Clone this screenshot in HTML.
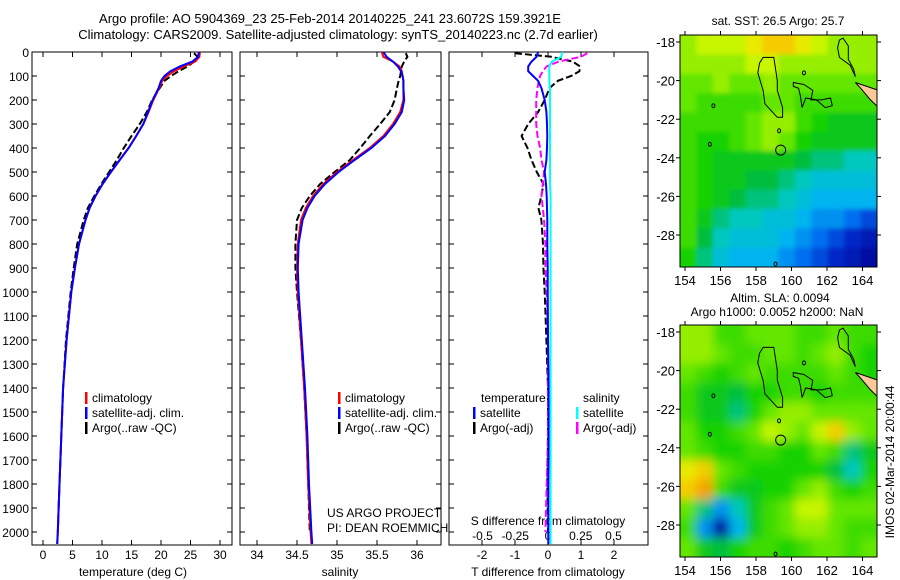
<!DOCTYPE html>
<html><head><meta charset="utf-8"><style>
html,body{margin:0;padding:0;background:#fff;}
svg{display:block;font-family:"Liberation Sans",sans-serif;}
</style></head><body>
<svg id="fig" width="900" height="580" viewBox="0 0 900 580" xmlns="http://www.w3.org/2000/svg">
<defs>
<clipPath id="cp1"><rect x="32" y="52" width="200" height="493"/></clipPath>
<clipPath id="cp2"><rect x="240" y="52" width="201" height="493"/></clipPath>
<clipPath id="cp3"><rect x="449" y="52" width="199" height="493"/></clipPath>
<clipPath id="cm1"><rect x="680" y="35" width="197" height="232"/></clipPath>
<clipPath id="cm2"><rect x="680" y="325" width="197" height="232"/></clipPath>
<filter id="blur" x="-10%" y="-10%" width="120%" height="120%"><feGaussianBlur stdDeviation="5"/></filter>
<filter id="blur1" x="-10%" y="-10%" width="120%" height="120%"><feGaussianBlur stdDeviation="2.5"/></filter>
</defs>
<text x="330" y="23" font-size="13" text-anchor="middle">Argo profile: AO 5904369_23 25-Feb-2014 20140225_241 23.6072S 159.3921E</text>
<text x="338" y="39" font-size="13" text-anchor="middle">Climatology: CARS2009. Satellite-adjusted climatology: synTS_20140223.nc (2.7d earlier)</text>
<text x="778" y="25" font-size="12" text-anchor="middle">sat. SST: 26.5 Argo: 25.7</text>
<text x="780" y="302" font-size="12" text-anchor="middle">Altim. SLA: 0.0094</text>
<text x="777" y="316" font-size="12" text-anchor="middle">Argo h1000: 0.0052 h2000: NaN</text>
<text transform="translate(894,462) rotate(-90)" font-size="12" text-anchor="middle">IMOS 02-Mar-2014 20:00:44</text>
<g id="g1"></g>
<g id="g2"></g>
<g id="g3"></g>
<g id="m1"></g>
<g id="m2"></g>
<text x="327" y="517" font-size="12">US ARGO PROJECT</text>
<text x="327" y="532" font-size="12">PI: DEAN ROEMMICH</text>
</svg>
<script>
const depthC=[0,20,40,60,80,100,120,150,200,250,300,350,400,450,500,550,600,650,700,800,900,1000,1200,1400,1600,1800,2000,2050];
const depthA=[5,20,40,60,80,100,120,150,200,250,300,350,400,450,500,550,600,650,700,800,900,1000,1200,1400,1600,1800,2000];
const tempClim=[26.6,26.5,25.8,23.8,22.2,21.0,20.2,19.7,18.7,17.9,17.0,15.8,14.5,13.0,11.5,10.1,8.9,7.9,7.2,6.1,5.4,4.8,4.0,3.4,3.1,2.8,2.5,2.4];
const tempSat=[26.4,26.3,25.3,23.2,21.6,20.6,20.0,19.6,18.6,17.8,17.0,15.8,14.5,13.0,11.5,10.1,8.9,7.9,7.2,6.1,5.4,4.8,4.0,3.4,3.1,2.8,2.5,2.4];
const tempArgo=[25.6,26.2,25.6,24.5,23.0,21.7,20.6,19.8,18.5,17.6,16.4,15.0,13.7,12.5,11.2,9.9,8.7,7.6,6.9,5.8,5.2,4.7,3.9,3.4,3.1,2.8,2.5];
const salClim=[35.56,35.58,35.70,35.78,35.81,35.82,35.83,35.83,35.83,35.79,35.70,35.58,35.41,35.20,35.00,34.83,34.70,34.61,34.55,34.51,34.50,34.51,34.55,34.59,34.62,34.64,34.67,34.68];
const salSat=[35.58,35.62,35.70,35.76,35.80,35.82,35.83,35.83,35.84,35.81,35.72,35.60,35.43,35.22,35.02,34.85,34.72,34.63,34.57,34.52,34.51,34.52,34.56,34.60,34.63,34.65,34.68,34.69];
const salArgo=[35.86,35.88,35.84,35.81,35.80,35.79,35.77,35.75,35.72,35.66,35.54,35.41,35.29,35.16,34.97,34.79,34.66,34.56,34.50,34.48,34.48,34.50,34.55,34.59,34.62,34.64,34.66];
const satTdiff=[-0.3,-0.35,-0.5,-0.6,-0.6,-0.45,-0.3,-0.2,-0.1,-0.05,-0.03,-0.02,-0.03,-0.05,-0.1,-0.06,-0.04,-0.03,-0.02,-0.02,-0.01,-0.01,0,0.02,0.02,0.01,0.01,0.01];
const satSdiff=[0.11,0.1,0.03,0.01,0.01,0.01,0.01,0.015,0.015,0.015,0.015,0.015,0.015,0.015,0.015,0.015,0.02,0.02,0.02,0.02,0.02,0.02,0.02,0.02,0.02,0.02,0.02,0.02];
const argoTdiff=[-1.0,0.1,0.75,0.97,0.95,0.7,0.3,0.05,-0.1,-0.3,-0.6,-0.8,-0.62,-0.5,-0.34,-0.14,-0.2,-0.29,-0.2,-0.15,-0.14,-0.1,-0.05,0,0,-0.02,0];
const argoSdiff=[0.3,0.25,0.08,-0.01,-0.04,-0.06,-0.07,-0.08,-0.09,-0.09,-0.09,-0.08,-0.06,-0.05,-0.03,-0.04,-0.05,-0.04,-0.03,-0.02,-0.02,-0.01,0,0,0,-0.01,-0.02];
const depthTicks=[0,100,200,300,400,500,600,700,800,900,1000,1100,1200,1300,1400,1500,1600,1700,1800,1900,2000];
const tempTicks=[0,5,10,15,20,25,30];
const salTicks=[34,34.5,35,35.5,36];
const tdTicks=[-2,-1,0,1,2];
const sdTicks=[-0.5,-0.25,0,0.25,0.5];
const sdTickLabels=["-0.5","-0.25","0","0.25","0.5"];
const lonTicks=[154,156,158,160,162,164];
const latTicks=[-18,-20,-22,-24,-26,-28];
const sstGrid=[
[8,8.5,8.5,8.5,9,9.5,9.5,9,8.5,8,8,8],
[8,8,8,8,8.5,8.5,8,8,8,8,8,8],
[7.5,7.5,8,7.5,7.5,8,7.5,7.5,7.5,7.5,7.5,7.5],
[7.5,7,7,7,7,7.5,7.5,7,7,7,7,7],
[7,7,7,7,7.5,8,8,7,6.5,6,6,6],
[7,6.5,6.5,7,7.5,8,7.5,6.5,6,6,6,6],
[7,6.5,6,6,6,6,6,5.5,5,5,4.5,4.5],
[7,6.5,6,6,5.5,5.5,5,4.5,4,4,4,4],
[7,6.5,6,5.5,5,5,4.5,4,3.5,3.5,3.5,3.5],
[7,6,5,4.5,4.5,4,4,3.5,3,3,2.5,2],
[7,5.5,4.5,4,4,4,3.5,3,2.5,2,1.5,1],
[6.5,5,4,3.5,3.5,3.5,3,2.5,2,1.5,1,0.5]];
const slaGrid=[
[8,8,7,7,7.5,7.5,7.5,7,7,7.5,7,7],
[8,8,7.5,7,7,7.5,7.5,7,7.5,8,7,6.5],
[7.5,7,6.5,7,7.5,7,7,7,7,7.5,7,6.5],
[7,6,6,5.5,6.5,6.5,7,7,6.5,7,7,7],
[7,6,6,5,6.5,7.5,8,8,7.5,7.5,7.5,7.5],
[7.5,6.5,6.5,7,7.5,8.5,8,7.5,8.5,9.5,8,7.5],
[7.5,7,6.5,6.5,7,7,6.5,6.5,7.5,7,5,6],
[9,9.5,7.5,7,6.5,6.5,6.5,6.5,6.5,5.5,4.5,6.5],
[9.5,10,7,6,6,6.5,6.5,7.5,8,7,6.5,7],
[7.5,5,3,4.5,6,7,7.5,8.5,8.5,7.5,7.5,7.5],
[7,3,0.5,3.5,6,7,7.5,8,8,7.5,7,7],
[7.5,6,5.5,6.5,7,7,6.5,7,7.5,7.5,7,7.5]];
const island1=[[158.4,-18.8],[159.0,-18.8],[159.2,-20.0],[159.2,-20.5],[159.5,-21.4],[159.5,-21.9],[159.2,-21.9],[158.5,-21.2],[158.4,-20.5],[158.1,-19.6],[158.2,-19.1]];
const island2=[[160.1,-20.1],[160.7,-20.2],[161.2,-20.5],[161.1,-21.0],[161.7,-21.0],[162.2,-20.9],[162.3,-21.3],[161.9,-21.4],[161.4,-21.0],[160.8,-20.9],[160.6,-21.4],[160.5,-20.8],[160.4,-20.4],[160.1,-20.3]];
const island3=[[162.9,-17.8],[163.2,-18.2],[163.2,-18.9],[163.5,-19.4],[163.6,-19.8],[163.3,-19.2],[162.7,-18.8],[162.6,-18.3],[162.7,-17.9]];
const land=[[163.6,-20.1],[164.9,-20.5],[164.9,-21.4],[164.45,-21.0],[163.9,-20.4]];
const islets=[[155.6,-21.3],[155.4,-23.3],[159.3,-22.6],[160.7,-19.6],[159.1,-29.5]];
const argoPos=[159.39,-23.6];

const NS="http://www.w3.org/2000/svg";
function mk(parent,tag,attrs){const e=document.createElementNS(NS,tag);for(const k in attrs)e.setAttribute(k,attrs[k]);parent.appendChild(e);return e;}
const top0=52,bot=545;
const yD=d=>top0+d*0.24;
const xT=t=>43+t*5.9, xS=s=>257+(s-34)*80, xdT=v=>548+v*33, xdS=v=>548+v*131;

function frame(g,x0,x1,xTickPos){
  const r=mk(g,'rect',{x:x0,y:top0,width:x1-x0,height:bot-top0,fill:'none',stroke:'#000','stroke-width':1});
  
  
  depthTicks.forEach(d=>{
    mk(g,'line',{x1:x0,x2:x0+5,y1:yD(d),y2:yD(d),stroke:'#000'});
    mk(g,'line',{x1:x1,x2:x1-5,y1:yD(d),y2:yD(d),stroke:'#000'});
  });
  xTickPos.forEach(x=>{
    mk(g,'line',{x1:x,x2:x,y1:bot,y2:bot-5,stroke:'#000'});
    mk(g,'line',{x1:x,x2:x,y1:top0,y2:top0+5,stroke:'#000'});
  });
}
function line(g,xs,ys,fx,color,dash,name,clip){
  const pts=xs.map((v,i)=>fx(v).toFixed(1)+','+yD(ys[i]).toFixed(1)).join(' ');
  const p=mk(g,'polyline',{points:pts,fill:'none',stroke:color,'stroke-width':2,'clip-path':'url(#'+clip+')'});
  if(dash)p.setAttribute('stroke-dasharray','7,3');
  
  
}
function txt(g,x,y,s,anchor,size,name){
  const t=mk(g,'text',{x:x,y:y,'font-size':size||12,'text-anchor':anchor||'start'});
  t.textContent=s;
  
  
  return t;
}
function legend(g,x,y,color,label){
  mk(g,'rect',{x:x,y:y-10,width:2.5,height:12,fill:color});
  txt(g,x+7,y,label,'start',12,'legend-entry');
}
const g1=document.getElementById('g1');
frame(g1,32,232,tempTicks.map(xT));
depthTicks.forEach(d=>txt(g1,29,yD(d)+5,String(d),'end',12,'depth-tick-label'));
tempTicks.forEach(t=>txt(g1,xT(t),559,String(t),'middle',12,'temp-tick-label'));
txt(g1,133,576,'temperature (deg C)','middle',12,'x-axis-title-temperature');
line(g1,tempArgo,depthA,xT,'#000',true,'argo-temperature-line','cp1');
line(g1,tempClim,depthC,xT,'#f00',false,'clim-temperature-line','cp1');
line(g1,tempSat,depthC,xT,'#00f',false,'sat-temperature-line','cp1');
legend(g1,85,402,'#f00','climatology');legend(g1,85,417,'#00f','satellite-adj. clim.');legend(g1,85,432,'#000','Argo(..raw -QC)');
const g2=document.getElementById('g2');
frame(g2,240,441,salTicks.map(xS));
salTicks.forEach(s=>txt(g2,xS(s),559,String(s),'middle',12,'sal-tick-label'));
txt(g2,340,576,'salinity','middle',12,'x-axis-title-salinity');
line(g2,salArgo,depthA,xS,'#000',true,'argo-salinity-line','cp2');
line(g2,salClim,depthC,xS,'#f00',false,'clim-salinity-line','cp2');
line(g2,salSat,depthC,xS,'#00f',false,'sat-salinity-line','cp2');
legend(g2,338,402,'#f00','climatology');legend(g2,338,417,'#00f','satellite-adj. clim.');legend(g2,338,432,'#000','Argo(..raw -QC)');
const g3=document.getElementById('g3');
frame(g3,449,648,tdTicks.map(xdT));
tdTicks.forEach(v=>txt(g3,xdT(v),559,String(v),'middle',12,'tdiff-tick-label'));
sdTicks.forEach((v,i)=>txt(g3,xdS(v),540,sdTickLabels[i],'middle',12,'sdiff-tick-label'));
txt(g3,548,576,'T difference from climatology','middle',12,'x-axis-title-tdiff');
txt(g3,548,525,'S difference from climatology','middle',12,'x-axis-title-sdiff');
line(g3,argoTdiff,depthA,xdT,'#000',true,'argo-tdiff-line','cp3');
line(g3,argoSdiff,depthA,xdS,'#f0f',true,'argo-sdiff-line','cp3');
line(g3,satTdiff,depthC,xdT,'#00f',false,'sat-tdiff-line','cp3');
line(g3,satSdiff,depthC,xdS,'#0ff',false,'sat-sdiff-line','cp3');
txt(g3,481,402,'temperature','start',12,'legend-title-temperature');
txt(g3,583,402,'salinity','start',12,'legend-title-salinity');
legend(g3,473,417,'#00f','satellite');legend(g3,473,432,'#000','Argo(-adj)');
legend(g3,576,417,'#0ff','satellite');legend(g3,576,432,'#f0f','Argo(-adj)');
const cols=[[0,[0,0,140]],[1.5,[0,40,200]],[2.5,[0,110,240]],[3.5,[0,180,240]],[4.5,[0,200,190]],[5.5,[0,190,60]],[6.5,[20,210,0]],[7.5,[100,230,0]],[8.5,[200,245,0]],[9.2,[245,230,0]],[10,[245,160,0]]];
function cmap(v){for(let i=1;i<cols.length;i++){if(v<=cols[i][0]){const a=cols[i-1],b=cols[i];const f=(v-a[0])/(b[0]-a[0]);return 'rgb('+a[1].map((c,k)=>Math.round(c+(b[1][k]-c)*f)).join(',')+')';}}return 'rgb(245,160,0)';}
function drawMap(id,grid,y0,clip,filt){
  const g=document.getElementById(id);
  const x0=680,w=197,h=232;
  const lon=v=>685+(v-154)*17.75;
  const lat=v=>(y0+7)+(-18-v)*19.3;
  const lonMin=153.72,lonMax=164.82,latMax=-17.64,latMin=-29.66;
  const nR=grid.length,nC=grid[0].length;
  const cg=mk(g,'g',{'clip-path':'url(#'+clip+')'});
  const ig=mk(cg,'g',{filter:'url(#'+filt+')'});
  const dLon=(lonMax-lonMin)/nC,dLat=(latMax-latMin)/nR;
  grid.forEach((row,r)=>row.forEach((v,c)=>{
    const xa=lon(lonMin+c*dLon),ya=lat(latMax-r*dLat);
    const ex=c==0?-20:0, ey=r==0?-20:0;
    const ew=(c==0||c==nC-1)?20:0, eh=(r==0||r==nR-1)?20:0;
    const cell=mk(ig,'rect',{x:(xa+ex).toFixed(1),y:(ya+ey).toFixed(1),width:(lon(lonMin+(c+1)*dLon)-xa+0.6+ew).toFixed(1),height:(lat(latMax-(r+1)*dLat)-ya+0.6+eh).toFixed(1),fill:cmap(v)});
    
    
  }));
  const poly=(pts,fill,name)=>{const p=mk(cg,'polygon',{points:pts.map(q=>lon(q[0]).toFixed(1)+','+lat(q[1]).toFixed(1)).join(' '),fill:fill,stroke:'#000','stroke-width':1});};
  poly(land,'#fbc896','land-mass');
  poly(island1,'none','coastline');poly(island2,'none','coastline');poly(island3,'none','coastline');
  islets.forEach(q=>{const e=mk(cg,'ellipse',{cx:lon(q[0]),cy:lat(q[1]),rx:1.5,ry:2,fill:'none',stroke:'#000'});});
  const c=mk(cg,'circle',{cx:lon(argoPos[0]),cy:lat(argoPos[1]),r:5,fill:'none',stroke:'#000','stroke-width':1});
  
  
  const fr=mk(g,'rect',{x:x0,y:y0,width:w,height:h,fill:'none',stroke:'#000'});
  
  
  lonTicks.forEach(v=>{mk(g,'line',{x1:lon(v),x2:lon(v),y1:y0,y2:y0-4,stroke:'#000'});mk(g,'line',{x1:lon(v),x2:lon(v),y1:y0+h,y2:y0+h+4,stroke:'#000'});txt(g,lon(v),y0+h+18,String(v),'middle',13,'lon-tick-label');});
  latTicks.forEach(v=>{mk(g,'line',{x1:x0,x2:x0-4,y1:lat(v),y2:lat(v),stroke:'#000'});mk(g,'line',{x1:x0+w,x2:x0+w+4,y1:lat(v),y2:lat(v),stroke:'#000'});txt(g,x0-5,lat(v)+5,String(v),'end',13,'lat-tick-label');});
}
drawMap('m1',sstGrid,35,'cm1','blur1');
drawMap('m2',slaGrid,325,'cm2','blur');
</script>
</body></html>
